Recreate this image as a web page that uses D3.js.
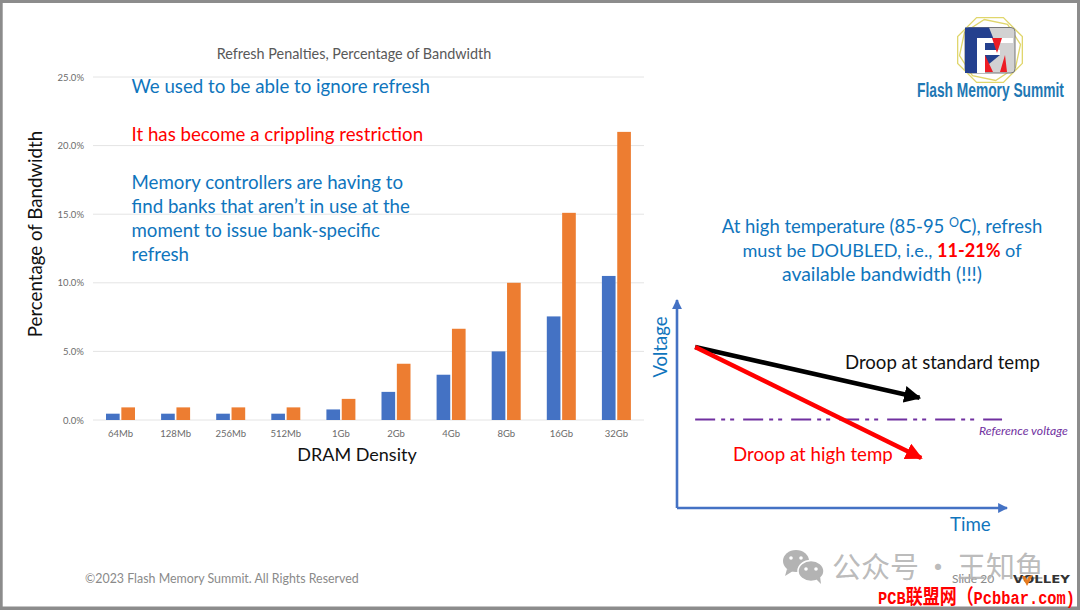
<!DOCTYPE html>
<html>
<head>
<meta charset="utf-8">
<script src="https://cdn.jsdelivr.net/npm/d3@7"></script>
<style>
  html, body { margin: 0; padding: 0; background: #fff; }
  svg { display: block; }
  text { font-family: Lato, "Open Sans", sans-serif; }
</style>
</head>
<body>
<svg id="slide" width="1080" height="611"></svg>
<script>
const categories = ['64Mb', '128Mb', '256Mb', '512Mb', '1Gb', '2Gb', '4Gb', '8Gb', '16Gb', '32Gb'];
const normalTemp = [0.46, 0.46, 0.46, 0.46, 0.77, 2.05, 3.3, 5.0, 7.55, 10.5];
const highTemp = [0.92, 0.92, 0.92, 0.92, 1.54, 4.1, 6.65, 10.0, 15.1, 21.0];
const percentTicks = [0, 5, 10, 15, 20, 25];

// voltage diagram, both axes in percent of the drawn axis length
const droopStandard = [[5.5, 77.4], [73.5, 53]];
const droopHigh = [[5.5, 77.4], [74, 24]];
const referenceVoltage = [[5.5, 42.5], [98.5, 42.5]];

const svg = d3.select('#slide');
const BLUE_TEXT = '#0f75bd';

// slide frame
svg.append('rect').attr('width', 1080).attr('height', 611).attr('fill', '#fff');
svg.append('path')
  .attr('fill', '#8c8c8c')
  .attr('fill-rule', 'evenodd')
  .attr('d', 'M0 0H1080V610H0Z M2.7 3V606.5H1077V3Z');

// bar chart
const x = d3.scaleBand().domain(categories).range([93, 644]);
const inner = d3.scaleBand().domain(['normal', 'high']).range([13, 42]).paddingInner(0.11);
const y = d3.scaleLinear().domain([0, 25]).range([420, 77]);

const gridG = svg.append('g');
gridG.selectAll('line').data(percentTicks).enter().append('line')
  .attr('x1', 93).attr('x2', 644)
  .attr('y1', d => y(d)).attr('y2', d => y(d))
  .attr('stroke', '#e4e4e4').attr('stroke-width', 1);

const yAxis = svg.append('g')
  .attr('transform', 'translate(93,0)')
  .call(d3.axisLeft(y).tickValues(percentTicks).tickSize(0).tickPadding(9).tickFormat(d => d.toFixed(1) + '%'));
yAxis.select('.domain').remove();
yAxis.selectAll('text').attr('fill', '#6b6b6b').style('font-size', '9.5px').style('font-family', 'Lato');

const xAxis = svg.append('g')
  .attr('transform', 'translate(0,420)')
  .call(d3.axisBottom(x).tickSize(0).tickPadding(10));
xAxis.select('.domain').remove();
xAxis.selectAll('text').attr('fill', '#6b6b6b').style('font-size', '9.5px').style('font-family', 'Lato');

const barG = svg.append('g');
barG.selectAll('rect.normal').data(normalTemp).enter().append('rect')
  .attr('class', 'normal')
  .attr('x', (d, i) => x(categories[i]) + inner('normal'))
  .attr('y', d => y(d))
  .attr('width', inner.bandwidth())
  .attr('height', d => y(0) - y(d))
  .attr('fill', '#4472c4');
barG.selectAll('rect.high').data(highTemp).enter().append('rect')
  .attr('class', 'high')
  .attr('x', (d, i) => x(categories[i]) + inner('high'))
  .attr('y', d => y(d))
  .attr('width', inner.bandwidth())
  .attr('height', d => y(0) - y(d))
  .attr('fill', '#ed7d31');

svg.append('text').attr('x', 354).attr('y', 59).attr('text-anchor', 'middle')
  .attr('fill', '#595959').style('font-size', '14.4px')
  .text('Refresh Penalties, Percentage of Bandwidth');
svg.append('text').attr('x', 357).attr('y', 461).attr('text-anchor', 'middle')
  .attr('fill', '#111').style('font-size', '18px').text('DRAM Density');
svg.append('text').attr('transform', 'translate(42,234) rotate(-90)').attr('text-anchor', 'middle')
  .attr('fill', '#111').style('font-size', '18.7px').text('Percentage of Bandwidth');

// text over the chart
const leftLines = [
  ['We used to be able to ignore refresh', 93, BLUE_TEXT],
  ['It has become a crippling restriction', 141, '#ff0000'],
  ['Memory controllers are having to', 189, BLUE_TEXT],
  ['find banks that aren\u2019t in use at the', 213, BLUE_TEXT],
  ['moment to issue bank-specific', 237, BLUE_TEXT],
  ['refresh', 261, BLUE_TEXT]
];
svg.append('g').selectAll('text').data(leftLines).enter().append('text')
  .attr('x', 131.5).attr('y', d => d[1]).attr('fill', d => d[2])
  .style('font-size', '18.7px').text(d => d[0]);

// high temperature note
const note = svg.append('g').attr('text-anchor', 'middle').attr('fill', BLUE_TEXT);
const l1 = note.append('text').attr('x', 882).attr('y', 233).style('font-size', '18.5px');
l1.append('tspan').text('At high temperature (85-95 ');
l1.append('tspan').attr('dy', -6).style('font-size', '12.5px').text('O');
l1.append('tspan').attr('dy', 6).text('C), refresh');
const l2 = note.append('text').attr('x', 882).attr('y', 257).style('font-size', '18.1px');
l2.append('tspan').text('must be DOUBLED, i.e., ');
l2.append('tspan').attr('fill', '#ff0000').attr('font-weight', 700).text('11-21%');
l2.append('tspan').text(' of');
note.append('text').attr('x', 882).attr('y', 281).style('font-size', '19.4px').text('available bandwidth (!!!)');

// voltage diagram
const tx = d3.scaleLinear().domain([0, 100]).range([677, 1007]);
const vy = d3.scaleLinear().domain([0, 100]).range([508, 300]);
const line = d3.line().x(d => tx(d[0])).y(d => vy(d[1]));

const defs = svg.append('defs');
[['blueHead', '#4472c4', 3.8], ['blackHead', '#000', 3.8], ['redHead', '#ff0000', 3.8]].forEach(m => {
  defs.append('marker').attr('id', m[0])
    .attr('viewBox', '0 0 10 10').attr('refX', 9).attr('refY', 5)
    .attr('markerWidth', m[2]).attr('markerHeight', m[2])
    .attr('orient', 'auto')
    .append('path').attr('d', 'M0 0L10 5L0 10Z').attr('fill', m[1]);
});

svg.append('path').attr('d', line([[0, 0], [0, 100]]))
  .attr('stroke', '#4472c4').attr('stroke-width', 2.6).attr('fill', 'none').attr('marker-end', 'url(#blueHead)');
svg.append('path').attr('d', line([[0, 0], [100, 0]]))
  .attr('stroke', '#4472c4').attr('stroke-width', 2.6).attr('fill', 'none').attr('marker-end', 'url(#blueHead)');
svg.append('path').attr('d', line(referenceVoltage))
  .attr('stroke', '#7030a0').attr('stroke-width', 2).attr('fill', 'none')
  .attr('stroke-dasharray', '20 6 4 5 4 9');
svg.append('path').attr('d', line(droopStandard))
  .attr('stroke', '#000').attr('stroke-width', 4.5).attr('fill', 'none').attr('marker-end', 'url(#blackHead)');
svg.append('path').attr('d', line(droopHigh))
  .attr('stroke', '#ff0000').attr('stroke-width', 4.5).attr('fill', 'none').attr('marker-end', 'url(#redHead)');

svg.append('text').attr('x', 845).attr('y', 369).attr('fill', '#111').style('font-size', '18.6px').text('Droop at standard temp');
svg.append('text').attr('x', 733).attr('y', 461).attr('fill', '#ff0000').style('font-size', '18.7px').text('Droop at high temp');
svg.append('text').attr('x', 979).attr('y', 435).attr('fill', '#7030a0').attr('font-style', 'italic').style('font-size', '12.2px').text('Reference voltage');
svg.append('text').attr('x', 950).attr('y', 531).attr('fill', BLUE_TEXT).style('font-size', '18.7px').text('Time');
svg.append('text').attr('transform', 'translate(667,347) rotate(-90)').attr('text-anchor', 'middle')
  .attr('fill', BLUE_TEXT).style('font-size', '18.5px').text('Voltage');

// logo
const logo = svg.append('g');
const octagon = (cx, cy, r) => d3.range(8).map(i => {
  const a = Math.PI / 8 + i * Math.PI / 4;
  return [cx + r * Math.cos(a), cy + r * Math.sin(a)].join(',');
}).join(' ');
logo.append('polygon').attr('points', octagon(990, 50, 35)).attr('fill', 'none').attr('stroke', '#e0d66c').attr('stroke-width', 1.3);
logo.append('polygon').attr('points', octagon(990, 50, 31)).attr('fill', 'none').attr('stroke', '#e0d66c').attr('stroke-width', 1.3).attr('transform', 'rotate(12 990 50)');
logo.append('rect').attr('x', 965).attr('y', 27.5).attr('width', 50).attr('height', 45.5).attr('rx', 4).attr('fill', '#d2d2d2').attr('stroke', '#777');
logo.append('path').attr('d', 'M965 27.5H989L1000 55L978 73H965Z').attr('fill', '#24408e');
logo.append('path').attr('d', 'M977 38H1013V43H985V50H1000V55H985V73H977Z').attr('fill', '#fff');
logo.append('path').attr('d', 'M992 38H1002L997 53Z').attr('fill', '#ed1c24');
logo.append('path').attr('d', 'M985 55L993 72H985Z M1005 55L1007 72H1000Z').attr('fill', '#ed1c24');

// squeeze a text horizontally to the width it has in the slide
const fitWidth = (sel, left, base, width) => {
  const k = width / sel.node().getComputedTextLength();
  sel.attr('transform', `translate(${left},${base}) scale(${k},1)`);
};
const logoName = svg.append('text').attr('fill', '#1f78b4').attr('font-weight', 700)
  .style('font-family', '"Liberation Sans Narrow", "Liberation Sans"').style('font-size', '20px')
  .text('Flash Memory Summit');
fitWidth(logoName, 917, 97, 147);

// footer
svg.append('text').attr('x', 85).attr('y', 583).attr('fill', '#8a8a8a').style('font-size', '12.4px')
  .text('\u00a92023 Flash Memory Summit. All Rights Reserved');
svg.append('text').attr('x', 952).attr('y', 583).attr('fill', '#8a8a8a').style('font-size', '12px').text('Slide 20');

// watermark
const wm = svg.append('g').attr('fill', '#b3b3b3');
wm.append('ellipse').attr('cx', 796).attr('cy', 561).attr('rx', 13).attr('ry', 11);
wm.append('path').attr('d', 'M787 569L785 576L793 571Z');
wm.append('ellipse').attr('cx', 811).attr('cy', 571).attr('rx', 13).attr('ry', 10.5).attr('stroke', '#fff').attr('stroke-width', 1.5);
wm.append('path').attr('d', 'M816 579L821 584L820 576Z');
svg.append('g').attr('fill', '#fff').selectAll('circle')
  .data([[791, 558], [801, 558], [806, 569], [816, 569]]).enter().append('circle')
  .attr('cx', d => d[0]).attr('cy', d => d[1]).attr('r', 1.8);
const wmText = svg.append('text').attr('x', 832).attr('y', 578).attr('fill', '#b3b3b3').attr('fill-opacity', 0.9)
  .style('font-family', '"Noto Sans CJK SC"').style('font-size', '29px');
wmText.append('tspan').text('公众号');
wmText.append('tspan').attr('dx', -2).text(' · ');
wmText.append('tspan').attr('dx', -2).text('王知鱼');

const volley = svg.append('text').attr('fill', '#333').attr('font-weight', 700)
  .style('font-family', '"DejaVu Sans"').style('font-size', '11px').text('VOLLEY');
fitWidth(volley, 1013, 583, 57);
svg.append('path').attr('d', 'M1022 576L1027 586L1033 575L1029 576L1027 580L1025 576Z').attr('fill', '#e87b1e');

const siteMark = svg.append('text').attr('fill', '#ff0000').attr('font-weight', 700)
  .style('font-family', '"Liberation Mono", "Noto Sans CJK SC"').style('font-size', '18.8px');
siteMark.append('tspan').text('PCB');
siteMark.append('tspan').style('font-size', '20.8px').text('联盟网（');
siteMark.append('tspan').text('Pcbbar.com)');
fitWidth(siteMark, 878, 604, 197);
</script>
</body>
</html>
